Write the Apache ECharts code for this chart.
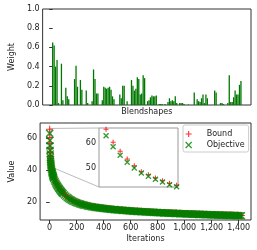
<!DOCTYPE html>
<html>
<head>
<meta charset="utf-8">
<script src="https://cdn.jsdelivr.net/npm/echarts@6/dist/echarts.min.js"></script>
<style>
html,body{margin:0;padding:0;background:#fff;}
#c{width:257px;height:250px;}
</style>
</head>
<body>
<div id="c"></div>
<script>
// ---- Data ----
const blendWeights = [
  0.65,0.62,0.40,0.47,0.02,0,0.43,0.05,0,0.18,
  0.09,0.06,0,0,0,0.27,0.41,0.19,0,0.26,
  0.16,0,0,0.15,0.02,0,0,0.04,0.37,0.27,
  0.12,0.12,0,0,0.05,0.19,0.18,0.17,0.18,0.19,
  0.16,0.09,0.06,0,0,0,0.11,0.07,0.20,0.20,
  0,0.04,0,0,0.26,0.20,0.15,0.17,0.29,0.27,
  0.11,0.12,0.31,0.28,0,0.04,0.05,0.08,0.10,0.09,
  0.09,0.10,0,0.01,0.01,0.01,0,0.01,0,0.03,
  0.07,0.04,0.05,0.04,0.09,0.02,0,0.02,0.02,0.02,
  0.01,0,0,0.005,0,0,0,0.13,0,0.06,
  0.04,0.03,0.07,0.11,0.02,0.11,0.07,0,0,0,
  0,0.15,0.13,0,0,0.02,0.02,0.01,0,0,
  0.02,0.31,0.03,0.03,0.08,0.15,0.11,0.11,0.21,0.25
];
const iterations = [
  0,1,2,3,4,5,6,7,8,9,10,
  12,14,16,18,20,22,24,26,28,30,
  35,40,45,50,55,60,65,70,75,80,85,90,95,100,
  110,120,130,140,150,160,170,180,190,200,210,220,230,240,250,260,270,280,290,
  300,310,320,330,340,350,360,370,380,390,400,410,420,430,440,450,460,470,480,490,
  500,510,520,530,540,550,560,570,580,590,600,610,620,630,640,650,660,670,680,690,
  700,710,720,730,740,750,760,770,780,790,800,810,820,830,840,850,860,870,880,890,
  900,910,920,930,940,950,960,970,980,990,1000,1010,1020,1030,1040,1050,1060,1070,1080,1090,
  1100,1110,1120,1130,1140,1150,1160,1170,1180,1190,1200,1210,1220,1230,1240,1250,1260,1270,1280,1290,
  1300,1310,1320,1330,1340,1350,1360,1370,1380,1390,1400,1410,1420
];
const objectiveValues = [
  63.0,58.6,55.2,52.4,50.1,48.1,46.8,45.6,44.5,43.4,42.6,
  41.4,40.3,39.4,38.6,37.9,37.2,36.6,36.0,35.5,35.0,
  33.9,32.9,32.0,31.2,30.5,29.8,29.1,28.5,27.9,27.3,26.8,26.3,25.8,25.3,
  24.5,23.7,23.0,22.4,21.8,21.3,20.8,20.4,20.0,19.7,19.4,19.1,18.8,18.5,18.3,18.1,17.9,17.7,17.5,
  17.3,17.15,17.0,16.9,16.8,16.65,16.5,16.4,16.3,16.2,16.1,16.0,15.9,15.8,15.7,15.6,15.5,15.45,15.4,15.3,
  15.2,15.15,15.1,15.0,14.9,14.85,14.8,14.75,14.7,14.6,14.5,14.45,14.4,14.35,14.3,14.25,14.2,14.15,14.1,14.05,
  14.0,13.95,13.9,13.85,13.8,13.75,13.7,13.65,13.6,13.55,13.5,13.45,13.4,13.4,13.35,13.3,13.3,13.25,13.2,13.15,
  13.1,13.1,13.05,13.0,13.0,12.95,12.9,12.85,12.8,12.8,12.75,12.7,12.7,12.65,12.6,12.6,12.55,12.5,12.5,12.45,
  12.4,12.4,12.35,12.3,12.3,12.25,12.25,12.2,12.2,12.15,12.1,12.1,12.05,12.05,12.0,12.0,11.95,11.95,11.9,11.9,
  11.85,11.85,11.8,11.8,11.75,11.75,11.7,11.7,11.65,11.65,11.6,11.55,11.5
];
const boundValues = [
  65.6,60.4,56.8,53.7,51.0,48.6,47.4,46.1,45.0,44.0,43.2,
  41.9,40.8,39.9,39.1,38.4,37.7,37.1,36.5,36.0,35.5,
  34.3,33.3,32.4,31.6,30.9,30.2,29.5,28.9,28.3,27.7,27.2,26.7,26.2,25.7,
  24.8,24.0,23.3,22.7,22.1,21.6,21.1,20.7,20.3,20.0,19.7,19.4,19.1,18.8,18.6,18.4,18.2,18.0,17.8,
  17.5,17.35,17.2,17.1,17.0,16.85,16.7,16.6,16.5,16.4,16.3,16.2,16.1,16.0,15.9,15.8,15.7,15.65,15.6,15.5,
  15.4,15.35,15.3,15.2,15.1,15.05,15.0,14.95,14.9,14.8,14.7,14.65,14.6,14.55,14.5,14.45,14.4,14.35,14.3,14.25,
  14.2,14.15,14.1,14.05,14.0,13.95,13.9,13.85,13.8,13.75,13.7,13.65,13.6,13.6,13.55,13.5,13.5,13.45,13.4,13.35,
  13.3,13.3,13.25,13.2,13.2,13.15,13.1,13.05,13.0,13.0,12.95,12.9,12.9,12.85,12.8,12.8,12.75,12.7,12.7,12.65,
  12.6,12.6,12.55,12.5,12.5,12.45,12.45,12.4,12.4,12.35,12.3,12.3,12.25,12.25,12.2,12.2,12.15,12.15,12.1,12.1,
  12.05,12.05,12.0,12.0,11.95,11.95,11.9,11.9,11.85,11.85,11.8,11.75,11.7
];
const weightTicks = [0, 0.2, 0.4, 0.6, 0.8, 1.0];
const valueTicks = [20, 40, 60];
const iterTicks = [0, 200, 400, 600, 800, 1000, 1200, 1400];
const insetValueTicks = [50, 60];
const insetMaxIter = 10;
// zoom window of the inset
const insetX = [-1, 10.2];
const insetY = [42.5, 66.1];

// ---- Chart ----
const FONT = 'DejaVu Sans';
const TXT = '#222';
const FRAME = '#333';
const PLUS = 'path://M5,0L5,10M0,5L10,5';
const CROSS = 'path://M0,0L10,10M10,0L0,10';

const barData = blendWeights.map((v, i) => [i, v]);
const boundData = iterations.map((it, k) => [it, boundValues[k]]);
const objData = iterations.map((it, k) => [it, objectiveValues[k]]);
const boundInset = boundData.filter(d => d[0] <= insetMaxIter);
const objInset = objData.filter(d => d[0] <= insetMaxIter);

const nB = blendWeights.length;
const lab = {fontFamily: FONT, fontSize: 8, color: TXT};

const chart = echarts.init(document.getElementById('c'), null, {renderer: 'canvas'});

const plusStyle = {color: 'rgba(0,0,0,0)', borderColor: '#ff0000', borderWidth: 1.1};
const crossStyle = {color: 'rgba(0,0,0,0)', borderColor: '#008000', borderWidth: 1.3};
const crossMain = {color: 'rgba(0,0,0,0)', borderColor: '#008000', borderWidth: 1.5};

chart.setOption({
  animation: false,
  backgroundColor: '#fff',
  grid: [
    {left: 33, top: 9, width: 218, height: 96, show: true, borderColor: FRAME, borderWidth: 1, backgroundColor: '#fff'},
    {left: 33, top: 123, width: 218, height: 97, show: true, borderColor: FRAME, borderWidth: 1, backgroundColor: '#fff'},
    {left: 99, top: 128, width: 79, height: 59, show: true, borderColor: '#999', borderWidth: 1, backgroundColor: '#fff', z: 3}
  ],
  xAxis: [
    {gridIndex: 0, type: 'value', min: -0.4 - 0.05 * (nB - 0.2), max: nB - 0.6 + 0.05 * (nB - 0.2),
     axisLine: {show: false}, axisTick: {show: false}, axisLabel: {show: false}, splitLine: {show: false},
     name: 'Blendshapes', nameLocation: 'middle', nameGap: 3, nameTextStyle: lab},
    {gridIndex: 1, type: 'value', min: -71, max: 1491,
     axisLine: {show: false}, splitLine: {show: false},
     axisTick: {show: true, length: 3.5, lineStyle: {color: FRAME}, customValues: iterTicks},
     axisLabel: Object.assign({margin: 4, customValues: iterTicks}, lab),
     name: 'Iterations', nameLocation: 'middle', nameGap: 15, nameTextStyle: lab},
    {gridIndex: 2, type: 'value', min: insetX[0], max: insetX[1],
     axisLine: {show: false}, splitLine: {show: false}, axisTick: {show: false}, axisLabel: {show: false}}
  ],
  yAxis: [
    {gridIndex: 0, type: 'value', min: 0, max: 1, interval: 0.2,
     axisLine: {show: false}, splitLine: {show: false},
     axisTick: {show: true, length: 3.5, lineStyle: {color: FRAME}, customValues: weightTicks},
     axisLabel: Object.assign({margin: 3, customValues: weightTicks, formatter: v => v.toFixed(1)}, lab),
     name: 'Weight', nameLocation: 'middle', nameGap: 22, nameRotate: 90, nameTextStyle: lab},
    {gridIndex: 1, type: 'value', min: 8.9, max: 69.5,
     axisLine: {show: false}, splitLine: {show: false},
     axisTick: {show: true, length: 3.5, lineStyle: {color: FRAME}, customValues: valueTicks},
     axisLabel: Object.assign({margin: 3, customValues: valueTicks}, lab),
     name: 'Value', nameLocation: 'middle', nameGap: 22, nameRotate: 90, nameTextStyle: lab},
    {gridIndex: 2, type: 'value', min: insetY[0], max: insetY[1],
     axisLine: {show: false}, splitLine: {show: false},
     axisTick: {show: true, length: 3.5, lineStyle: {color: '#555'}, customValues: insetValueTicks},
     axisLabel: Object.assign({margin: 3, customValues: insetValueTicks}, lab)}
  ],
  legend: {
    show: true,
    left: 183, top: 125,
    orient: 'vertical',
    itemWidth: 8, itemHeight: 6, itemGap: 3,
    padding: [5, 4, 3, 2],
    backgroundColor: '#fff', borderColor: '#ccc', borderWidth: 1, borderRadius: 2,
    textStyle: {fontFamily: FONT, fontSize: 8, color: TXT, padding: [0, 0, 0, 9]},
    data: [
      {name: 'Bound', icon: PLUS, itemStyle: plusStyle},
      {name: 'Objective', icon: CROSS, itemStyle: crossStyle}
    ],
    selectedMode: false
  },
  series: [
    {type: 'bar', name: 'Weights', xAxisIndex: 0, yAxisIndex: 0, data: barData, barWidth: 1.3,
     itemStyle: {color: '#007800'}, silent: true},
    {type: 'scatter', name: 'Bound', xAxisIndex: 1, yAxisIndex: 1, data: boundData,
     symbol: PLUS, symbolSize: 7, symbolKeepAspect: true, itemStyle: plusStyle, silent: true, z: 4},
    {type: 'scatter', name: 'Objective', xAxisIndex: 1, yAxisIndex: 1, data: objData,
     symbol: CROSS, symbolSize: 7, symbolKeepAspect: true, itemStyle: crossMain, silent: true, z: 5},
    {type: 'scatter', name: 'Bound', xAxisIndex: 2, yAxisIndex: 2, data: boundInset,
     symbol: PLUS, symbolSize: 5, symbolKeepAspect: true, itemStyle: plusStyle, silent: true, z: 6},
    {type: 'scatter', name: 'Objective', xAxisIndex: 2, yAxisIndex: 2, data: objInset,
     symbol: CROSS, symbolSize: 5, symbolKeepAspect: true, itemStyle: crossStyle, silent: true, z: 7}
  ]
});

// inset indicator: rectangle in main axes + connector lines to inset corners
const rTL = chart.convertToPixel({gridIndex: 1}, [insetX[0], insetY[1]]);
const rBR = chart.convertToPixel({gridIndex: 1}, [insetX[1], insetY[0]]);
const rBL = chart.convertToPixel({gridIndex: 1}, [insetX[0], insetY[0]]);
const iTL = chart.convertToPixel({gridIndex: 2}, [insetX[0], insetY[1]]);
const iBL = chart.convertToPixel({gridIndex: 2}, [insetX[0], insetY[0]]);
const g = '#bbb';
chart.setOption({
  graphic: [
    {type: 'rect', shape: {x: rTL[0], y: rTL[1], width: rBR[0] - rTL[0], height: rBR[1] - rTL[1]},
     style: {fill: 'none', stroke: g, lineWidth: 1}, z: 1, silent: true},
    {type: 'line', shape: {x1: rTL[0], y1: rTL[1], x2: iTL[0], y2: iTL[1]},
     style: {stroke: g, lineWidth: 1}, z: 1, silent: true},
    {type: 'line', shape: {x1: rBL[0], y1: rBL[1], x2: iBL[0], y2: iBL[1]},
     style: {stroke: g, lineWidth: 1}, z: 1, silent: true}
  ]
});
</script>
</body>
</html>
